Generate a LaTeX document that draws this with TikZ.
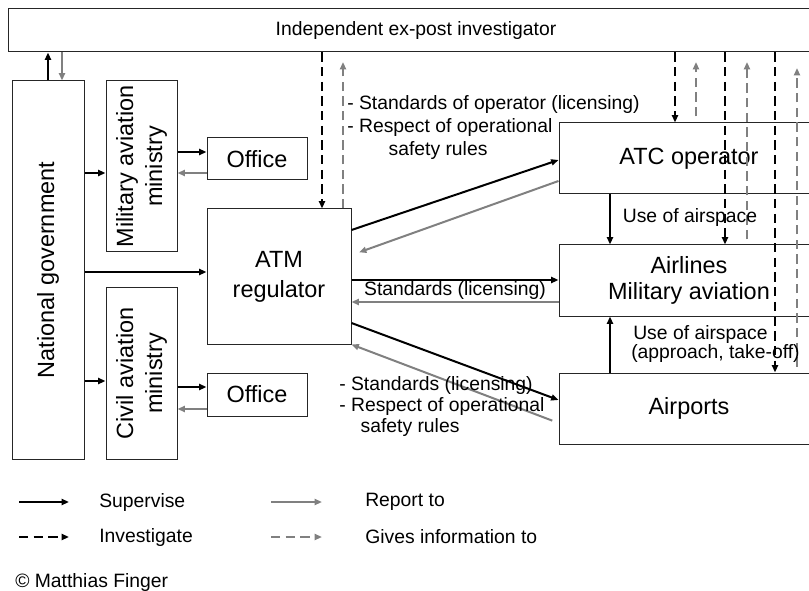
\documentclass[tikz,border=0pt]{standalone}
\usepackage{fontspec}
\setmainfont{Liberation Sans}
\usetikzlibrary{arrows.meta}
\definecolor{repgray}{RGB}{128,128,128}
\newcommand{\bigtxt}{\fontsize{17.6}{21}\selectfont}
\newcommand{\midtxt}{\fontsize{14.5}{17}\selectfont}
\begin{document}
\begin{tikzpicture}[x=0.75pt,y=-0.75pt,
  box/.style={draw=black!85,line width=0.75pt,inner sep=0pt,font=\bigtxt,align=center},
  sup/.style={-{Triangle[length=5.5pt,width=4.5pt]},line width=1.5pt,black},
  rep/.style={sup,repgray},
  invg/.style={sup,dash pattern=on 7pt off 4pt},
  info/.style={rep,dash pattern=on 7pt off 4pt},
  lbl/.style={font=\midtxt,inner sep=0pt}]
\clip (0,0) rectangle (809,591);
% Investigator on top
\node[box,font=\midtxt,minimum width=612pt,minimum height=32.25pt] (inv) at (416,30.5) {Independent ex-post investigator};
% Government side
\node[box,minimum width=54pt,minimum height=283.5pt] (gov) at (48,270) {};
\node[rotate=90,font=\bigtxt] (govT) at (gov) {National government};
\node[box,minimum width=53.25pt,minimum height=128.25pt] (mil) at (141.5,166.5) {};
\node[rotate=90,font=\fontsize{17.6}{21.75}\selectfont,align=center] (milT) at (mil) {Military aviation\\ministry};
\node[box,minimum width=53.25pt,minimum height=128.25pt] (civ) at (141.5,373.5) {};
\node[rotate=90,font=\fontsize{17.6}{21.75}\selectfont,align=center] (civT) at (civ) {Civil aviation\\ministry};
\node[box,minimum width=75pt,minimum height=31.5pt] (off1) at (257,159) {Office};
\node[box,minimum width=75pt,minimum height=32.25pt] (off2) at (257,394.5) {Office};
\node[box,font=\fontsize{17.6}{22.5}\selectfont,minimum width=108pt,minimum height=101.25pt] (atm) at (279,276.5) {ATM\\regulator};
% Operators on the right
\node[box,minimum width=195pt,minimum height=53.25pt] (atc) at (689,158.5) {ATC operator};
\node[box,font=\fontsize{17.6}{19}\selectfont,minimum width=195pt,minimum height=53.25pt] (air) at (689,280.5) {Airlines\\Military aviation};
\node[box,minimum width=195pt,minimum height=53.25pt] (apt) at (689,408.5) {Airports};
% Free ends of the information arrows
\coordinate (tipA) at (343,62);
\coordinate (tipB) at (696,62);
\coordinate (tipC) at (747,62);
\coordinate (tipD) at (797,68);
% Government links
\draw[sup] (gov.north) -- (gov.north |- inv.south);
\draw[rep] (inv.south -| 62,0) -- (gov.north -| 62,0);
\draw[sup] (gov.east |- 0,173) -- (mil.west |- 0,173);
\draw[sup] (gov.east |- 0,272) -- (atm.west |- 0,272);
\draw[sup] (gov.east |- 0,381) -- (civ.west |- 0,381);
\draw[sup] (mil.east |- 0,152) -- (off1.west |- 0,152);
\draw[rep] (off1.west |- 0,173) -- (mil.east |- 0,173);
\draw[sup] (civ.east |- 0,387) -- (off2.west |- 0,387);
\draw[rep] (off2.west |- 0,409) -- (civ.east |- 0,409);
% Regulator links
\draw[sup] (atm.east |- 0,230) -- (atc.west |- 0,160);
\draw[rep,shorten >=6pt] (atc.west |- 0,181) -- (atm.east |- 0,255);
\draw[sup] (atm.east |- 0,280) -- (air.west |- 0,280);
\draw[rep] (air.west |- 0,302) -- (atm.east |- 0,302);
\draw[sup] (atm.east |- 0,323) -- (apt.west |- 0,400);
\draw[rep,shorten <=5pt] (apt.west |- 0,423) -- (atm.south east);
\draw[sup] (atc.south -| 610,0) -- (air.north -| 610,0);
\draw[sup] (apt.north -| 610,0) -- (air.south -| 610,0);
% Investigation
\draw[invg] (inv.south -| 322,0) -- (atm.north -| 322,0);
\draw[info] (atm.north -| 343,0) -- (tipA);
\draw[invg] (inv.south -| 675,0) -- (atc.north -| 675,0);
\draw[info,shorten <=4.5pt] (atc.north -| 696,0) -- (tipB);
\draw[invg] (inv.south -| 725,0) -- (air.north -| 725,0);
\draw[info,shorten <=3.75pt] (air.north -| 747,0) -- (tipC);
\draw[invg] (inv.south -| 775,0) -- (apt.north -| 775,0);
\draw[info,shorten <=4.5pt] (apt.north -| 797,0) -- (tipD);
% Labels
\node[lbl,anchor=west,align=left,font=\fontsize{14.5}{16.9}\selectfont] (stdA) at (347,127.5) {- Standards of operator (licensing)\\- Respect of operational\\\hspace*{31pt}safety rules};
\node[lbl] (stdB) at (455,291) {Standards (licensing)};
\node[lbl,anchor=west,align=left,font=\fontsize{14.5}{16.1}\selectfont] (stdC) at (339,406.5) {- Standards (licensing)\\- Respect of operational\\\hspace*{16pt}safety rules};
\node[lbl] (useA) at (690,218) {Use of airspace};
\node[lbl,anchor=west,align=left,font=\fontsize{14.5}{13.5}\selectfont] (useB) at (631,344) {\hspace*{1.5pt}Use of airspace\\(approach, take-off)};
% Legend
\node[lbl,anchor=west] (supT) at (99,502) {Supervise};
\node[lbl,anchor=west] (invT) at (99,537) {Investigate};
\node[lbl,anchor=west] (repT) at (365,502) {Report to};
\node[lbl,anchor=west] (infT) at (365,537) {Gives information to};
\draw[sup] ([xshift=-60pt]supT.west) -- ([xshift=-22.5pt]supT.west);
\draw[invg] ([xshift=-60pt]invT.west) -- ([xshift=-22.5pt]invT.west);
\draw[rep] ([xshift=-70.5pt]repT.west) -- ([xshift=-32.25pt]repT.west);
\draw[info] ([xshift=-70.5pt]infT.west) -- ([xshift=-32.25pt]infT.west);
\node[lbl,anchor=west] (copyT) at (15,582) {© Matthias Finger};
\end{tikzpicture}
\end{document}
